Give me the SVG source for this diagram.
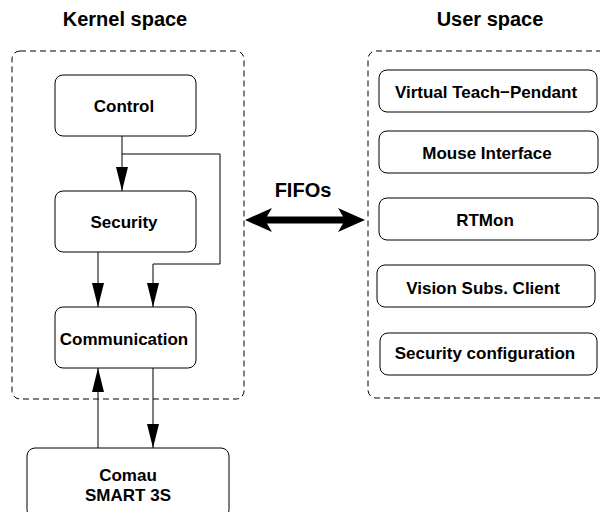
<svg xmlns="http://www.w3.org/2000/svg" width="600" height="512" viewBox="0 0 600 512">
<defs>
<style>
text{font-family:"Liberation Sans",Arial,Helvetica,sans-serif;font-weight:bold;fill:#000;text-anchor:middle}
.title{font-size:20px}
.lbl{font-size:17px}
.box{fill:#fff;stroke:#000;stroke-width:1}
.grp{fill:none;stroke:#000;stroke-width:1;stroke-dasharray:6 4}
.conn{fill:none;stroke:#000;stroke-width:1}
</style>
<marker id="ah" markerUnits="userSpaceOnUse" markerWidth="24" markerHeight="12" viewBox="0 0 22 11" refX="22" refY="5.5" orient="auto">
<path d="M0,0 L22,5.5 L0,11 Z" fill="#000"/>
</marker>
</defs>
<text class="title" x="125" y="26">Kernel space</text>
<text class="title" x="490" y="26">User space</text>
<g id="kernel-space"><rect class="grp" x="12" y="51" width="232" height="348" rx="8"/></g>
<g id="user-space"><rect class="grp" x="368" y="51" width="240" height="347" rx="8"/></g>
<g id="control"><rect class="box" x="55" y="75" width="141" height="61" rx="8"/><text class="lbl" x="124" y="112">Control</text></g>
<g id="security"><rect class="box" x="55" y="191" width="141" height="61" rx="8"/><text class="lbl" x="124" y="228">Security</text></g>
<g id="communication"><rect class="box" x="55" y="307" width="141" height="61" rx="8"/><text class="lbl" x="124" y="345">Communication</text></g>
<g id="comau"><rect class="box" x="27" y="448" width="202" height="70" rx="8"/><text class="lbl" x="128" y="481">Comau</text><text class="lbl" x="128" y="501">SMART 3S</text></g>
<g id="vtp"><rect class="box" x="379" y="70" width="218" height="42" rx="8"/><text class="lbl" x="486" y="98">Virtual Teach−Pendant</text></g>
<g id="mouse"><rect class="box" x="379" y="131" width="219" height="42" rx="8"/><text class="lbl" x="487" y="159">Mouse Interface</text></g>
<g id="rtmon"><rect class="box" x="379" y="198" width="219" height="42" rx="8"/><text class="lbl" x="485" y="226">RTMon</text></g>
<g id="vision"><rect class="box" x="377" y="265" width="218" height="42" rx="8"/><text class="lbl" x="483" y="294">Vision Subs. Client</text></g>
<g id="secconf"><rect class="box" x="380" y="333" width="217" height="42" rx="8"/><text class="lbl" x="485" y="359">Security configuration</text></g>
<g id="connectors">
<line class="conn" x1="122" y1="136" x2="122" y2="191" marker-end="url(#ah)"/>
<polyline class="conn" points="122,154 220,154 220,264 153,264 153,307" marker-end="url(#ah)"/>
<line class="conn" x1="98" y1="252" x2="98" y2="307" marker-end="url(#ah)"/>
<line class="conn" x1="98" y1="448" x2="98" y2="368" marker-end="url(#ah)"/>
<line class="conn" x1="153" y1="368" x2="153" y2="448" marker-end="url(#ah)"/>
<polygon points="245,220 272,208 267,216.5 343,216.5 338,208 365,220 338,232 343,223.5 267,223.5 272,232" fill="#000"/>
<text class="title" x="303" y="197">FIFOs</text>
</g>
</svg>
